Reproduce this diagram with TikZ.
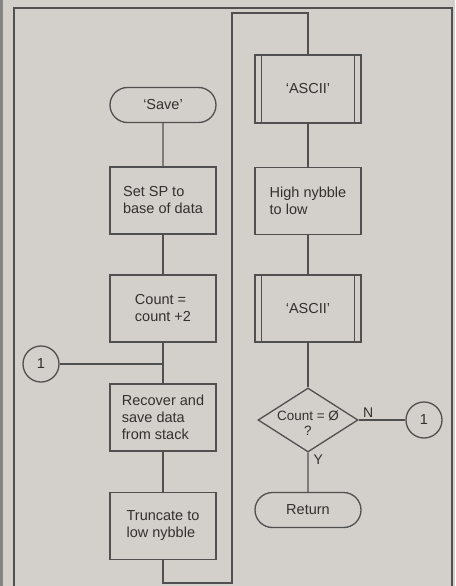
\documentclass[tikz,border=0pt]{standalone}
\usepackage{fontspec}
\setmainfont{Liberation Sans}
\usetikzlibrary{shapes.geometric,shapes.misc}
\definecolor{bg}{HTML}{D3CFCA}
\definecolor{ln}{HTML}{505050}
\definecolor{tx}{HTML}{353030}
\tikzset{
  every node/.style={text=tx, font=\fontsize{14.5}{17}\selectfont},
  lnk/.style={draw=ln, line width=1.3pt},
  proc/.style={draw=ln, line width=1.3pt, rectangle, minimum width=106pt, minimum height=67pt, align=left, inner sep=0pt},
  term/.style={draw=ln, line width=1.3pt, rounded rectangle, minimum width=106pt, minimum height=35pt, inner sep=0pt},
  dec/.style={draw=ln, line width=1.3pt, diamond, minimum width=100pt, minimum height=64pt, aspect=1.56, inner sep=0pt, align=center, font=\fontsize{13.5}{15}\selectfont},
  conn/.style={draw=ln, line width=1.3pt, circle, minimum size=36pt, inner sep=0pt},
  lab/.style={font=\fontsize{14}{16}\selectfont}
}
\begin{document}
\begin{tikzpicture}[x=1pt,y=-1pt]
\fill[bg] (0,0) rectangle (455,586);
\fill[ln!70] (0,0) rectangle (2.5,586);
\useasboundingbox (0,0) rectangle (455,586);
\draw[ln, line width=1.2pt] (14,586) -- (14,8) -- (452,8) -- (452,586);
% left column
\node[term] (save) at (163,105) {`Save'};
\node[proc] (setsp) at (163,200.5) {Set SP to\\base of data};
\node[proc] (count) at (163,308.5) {Count =\\count +2};
\node[proc] (recover) at (163,417.5) {Recover and\\save data\\from stack};
\node[proc] (trunc) at (163,526) {Truncate to\\low nybble};
\node[conn] (c1) at (41,364) {1};
\coordinate (j1) at (163,364);
\coordinate (b1) at (163,583);
\coordinate (b2) at (232,583);
\coordinate (t1) at (232,13);
\coordinate (t2) at (308,13);
% right column
\node[proc, minimum height=68pt] (ascii1) at (308,89) {`ASCII'};
\node[proc] (high) at (308,201) {High nybble\\to low};
\node[proc] (ascii2) at (308,308.5) {`ASCII'};
\node[dec] (dec) at (308,420) {};
\node (dect) at (308,423) [font=\fontsize{13.5}{14.5}\selectfont, align=center, inner sep=0pt] {Count = Ø\\?};
\node[conn] (c2) at (424,420) {1};
\node[term] (ret) at (308,510) {Return};
\foreach \n in {ascii1,ascii2}{
  \draw[ln, line width=1.3pt] ([xshift=7pt]\n.north west) -- ([xshift=7pt]\n.south west);
  \draw[ln, line width=1.3pt] ([xshift=-7pt]\n.north east) -- ([xshift=-7pt]\n.south east);
}
% connectors
\draw[lnk] (save) -- (setsp);
\draw[lnk] (setsp) -- (count);
\draw[lnk] (count) -- (recover);
\draw[lnk] (c1) -- (j1);
\draw[lnk] (recover) -- (trunc);
\draw[lnk] (trunc.south) -- (b1) -- (b2) -- (t1) -- (t2) -- (ascii1.north);
\draw[lnk] (ascii1) -- (high);
\draw[lnk] (high) -- (ascii2);
\draw[lnk] (ascii2) -- (dec);
\draw[lnk] (dec.east) -- (c2);
\draw[lnk] (dec.south) -- (ret);
\node[lab, anchor=south west] (nl) at ([xshift=1pt,yshift=-1pt]dec.east) {N};
\node[lab, anchor=north west] (yl) at ([xshift=2pt,yshift=1pt]dec.south) {Y};
\end{tikzpicture}
\end{document}
